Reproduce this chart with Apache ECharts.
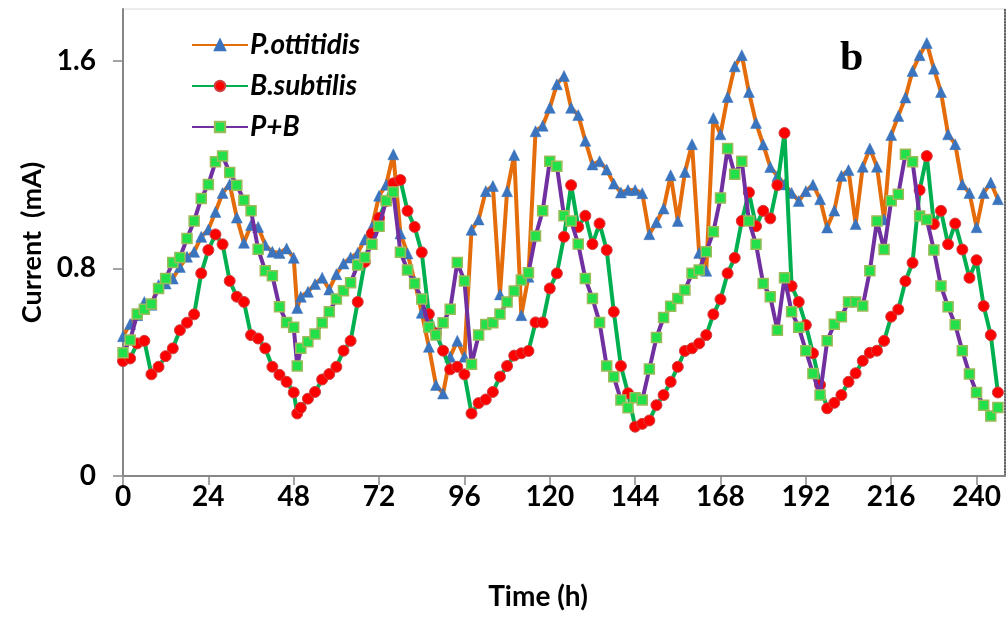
<!DOCTYPE html>
<html>
<head>
<meta charset="utf-8">
<script src="https://cdn.jsdelivr.net/npm/echarts@6/dist/echarts.min.js"></script>
<style>
html,body{margin:0;padding:0;background:#fff;}
#chart{width:1007px;height:619px;}
</style>
</head>
<body>
<div id="chart"></div>
<script>
// Sampling times (h)
const hours = [0,2,4,6,8,10,12,14,16,18,20,22,24,26,28,30,32,34,36,38,40,42,44,46,48,49,50,52,54,56,58,60,62,64,66,68,70,72,74,76,78,80,82,84,86,88,90,92,94,96,98,100,102,104,106,108,110,112,114,116,118,120,122,124,126,128,130,132,134,136,138,140,142,144,146,148,150,152,154,156,158,160,162,164,166,168,170,172,174,176,178,180,182,184,186,188,190,192,194,196,198,200,202,204,206,208,210,212,214,216,218,220,222,224,226,228,230,232,234,236,238,240,242,244,246];

// P.ottitidis current (mA)
const pOttitidis = [0.539,0.586,0.62,0.671,0.66,0.736,0.742,0.761,0.806,0.845,0.864,0.922,0.950,1.018,1.091,1.125,0.996,0.899,0.967,0.960,0.890,0.864,0.860,0.877,0.841,0.648,0.691,0.710,0.740,0.764,0.719,0.778,0.819,0.842,0.860,0.912,0.960,1.080,1.123,1.240,0.935,0.858,0.75,0.629,0.498,0.351,0.318,0.460,0.521,0.460,0.949,0.989,1.098,1.118,0.700,1.098,1.237,0.620,0.768,1.329,1.350,1.419,1.510,1.542,1.419,1.391,1.292,1.201,1.213,1.181,1.127,1.093,1.102,1.102,1.090,0.932,0.978,1.031,1.159,0.983,1.172,1.279,0.860,0.791,1.380,1.317,1.461,1.579,1.622,1.480,1.361,1.278,1.191,1.156,1.124,1.091,1.060,1.098,1.123,1.067,0.958,1.023,1.157,1.179,0.971,1.192,1.262,1.192,0.989,1.314,1.388,1.459,1.561,1.622,1.669,1.570,1.480,1.317,1.279,1.124,1.091,0.959,1.091,1.131,1.067];

// B.subtilis current (mA)
const bSubtilis = [0.443,0.453,0.511,0.521,0.392,0.421,0.462,0.492,0.562,0.591,0.623,0.781,0.871,0.931,0.893,0.752,0.691,0.671,0.543,0.530,0.492,0.421,0.390,0.363,0.322,0.241,0.263,0.298,0.324,0.372,0.393,0.421,0.483,0.521,0.671,0.825,0.935,0.995,1.06,1.128,1.141,1.022,0.960,0.862,0.624,0.55,0.483,0.411,0.421,0.392,0.241,0.281,0.295,0.324,0.383,0.424,0.464,0.473,0.482,0.592,0.592,0.723,0.781,0.922,1.121,0.960,1.003,0.894,0.973,0.871,0.633,0.424,0.319,0.190,0.201,0.214,0.273,0.312,0.363,0.421,0.482,0.492,0.511,0.543,0.623,0.681,0.781,0.841,0.983,1.093,0.963,1.022,0.993,1.121,1.322,0.732,0.671,0.582,0.473,0.351,0.261,0.282,0.312,0.363,0.396,0.444,0.475,0.483,0.521,0.614,0.642,0.751,0.822,1.102,1.233,0.971,1.022,0.893,0.973,0.873,0.764,0.832,0.655,0.543,0.322];

// P+B current (mA)
const pPlusB = [0.475,0.524,0.624,0.643,0.663,0.723,0.761,0.823,0.842,0.915,0.983,1.070,1.124,1.211,1.233,1.170,1.121,1.063,1.022,0.874,0.791,0.772,0.652,0.592,0.573,0.424,0.492,0.517,0.547,0.591,0.633,0.682,0.714,0.745,0.813,0.842,0.893,0.963,1.061,1.095,0.862,0.794,0.742,0.682,0.573,0.543,0.591,0.643,0.823,0.752,0.431,0.543,0.584,0.591,0.624,0.671,0.713,0.755,0.783,0.925,1.022,1.213,1.194,1.003,0.983,0.894,0.761,0.684,0.592,0.424,0.383,0.293,0.263,0.302,0.293,0.412,0.534,0.611,0.654,0.684,0.717,0.781,0.794,0.864,0.941,1.072,1.262,1.163,1.213,0.983,0.893,0.742,0.691,0.562,0.764,0.633,0.573,0.483,0.395,0.312,0.521,0.585,0.614,0.671,0.671,0.655,0.791,0.983,0.873,1.061,1.086,1.240,1.211,1.002,0.989,0.871,0.732,0.652,0.583,0.483,0.393,0.322,0.273,0.231,0.264];

const xTicks = [0,24,48,72,96,120,144,168,192,216,240];
const yTicks = [0,0.8,1.6];
const seriesNames = ['P.ottitidis','B.subtilis','P+B'];

function pairs(vals){ return hours.map((h,i)=>[h, vals[i]]); }

const chart = echarts.init(document.getElementById('chart'), null, {renderer:'canvas'});
const labelFont = {fontFamily:'Lato, "Open Sans", sans-serif', fontWeight:'bold', color:'#000'};

chart.setOption({
  animation:false,
  backgroundColor:'#fff',
  grid:{left:123, right:2, top:9, bottom:143, show:true, borderColor:'#d9d9d9', borderWidth:1},
  legend:{
    orient:'vertical', left:186, top:25,
    itemWidth:56, itemHeight:13, itemGap:11,
    data:seriesNames,
    textStyle:Object.assign({}, labelFont, {fontSize:28, fontStyle:'italic', lineHeight:30, padding:[0,0,0,-3]})
  },
  xAxis:{
    type:'value', min:0, max:248, interval:24,
    name:'Time (h)', nameLocation:'middle', nameGap:107,
    nameTextStyle:Object.assign({}, labelFont, {fontSize:28, padding:[0,52,0,0]}),
    axisLine:{show:true, onZero:false, lineStyle:{color:'#868686', width:2}},
    axisTick:{show:true, length:9, lineStyle:{color:'#868686', width:1.5}, customValues:xTicks},
    axisLabel:Object.assign({}, labelFont, {fontSize:28, margin:7, customValues:xTicks}),
    splitLine:{show:false}
  },
  yAxis:[{
    type:'value', min:0, max:1.8, interval:0.8,
    name:'Current  (mA)', nameLocation:'middle', nameGap:77, nameRotate:90,
    nameTextStyle:Object.assign({}, labelFont, {fontSize:27}),
    axisLine:{show:true, lineStyle:{color:'#868686', width:2}},
    axisTick:{show:true, length:10, lineStyle:{color:'#868686', width:1.5}, customValues:yTicks},
    axisLabel:Object.assign({}, labelFont, {fontSize:28, margin:27, customValues:yTicks, formatter:v=>String(v)}),
    splitLine:{show:false}
  },{
    type:'value', min:0, max:1.8, position:'right',
    axisLine:{show:true, lineStyle:{color:'#333', width:1.5, type:'dotted'}},
    axisTick:{show:false}, axisLabel:{show:false}, splitLine:{show:false}
  }],
  graphic:[{
    type:'text', left:840, top:38,
    style:{text:'b', font:'bold 42px "Liberation Serif", "DejaVu Serif", serif', fill:'#000'}
  }],
  series:[
    {
      name:'P.ottitidis', type:'line', data:pairs(pOttitidis),
      symbol:'triangle', symbolSize:11,
      lineStyle:{color:'#E46C0A', width:4},
      itemStyle:{color:'#3A74BE', borderColor:'#3A74BE', borderWidth:0.5},
      z:3
    },
    {
      name:'B.subtilis', type:'line', data:pairs(bSubtilis),
      symbol:'circle', symbolSize:11,
      lineStyle:{color:'#00B050', width:4},
      itemStyle:{color:'#FF0000', borderColor:'#D04040', borderWidth:1},
      z:4
    },
    {
      name:'P+B', type:'line', data:pairs(pPlusB),
      symbol:'rect', symbolSize:10,
      lineStyle:{color:'#7030A0', width:4},
      itemStyle:{color:'#22E04A', borderColor:'#9BBB59', borderWidth:1.5},
      z:5
    }
  ]
});
</script>
</body>
</html>
